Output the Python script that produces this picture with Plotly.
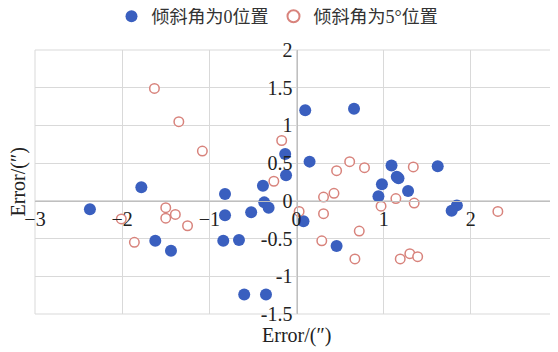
import plotly.graph_objects as go

# Series 1: 倾斜角为0位置 (filled blue)
s0_x = [-2.37, -1.78, -0.82, -0.385, -0.37, -0.32, -0.52, -0.13, -0.12, -0.82,
        -0.84, -0.66, -1.62, -1.44, -0.60, -0.35, 0.10, 0.66, 0.15, 1.09,
        1.62, 1.15, 1.17, 0.98, 1.28, 0.94, 1.84, 1.78, 0.08, 0.46]
s0_y = [-0.11, 0.18, 0.09, 0.20, -0.02, -0.09, -0.15, 0.62, 0.34, -0.19,
        -0.53, -0.52, -0.53, -0.66, -1.24, -1.24, 1.20, 1.22, 0.52, 0.47,
        0.46, 0.32, 0.30, 0.22, 0.13, 0.06, -0.06, -0.13, -0.27, -0.60]

# Series 2: 倾斜角为5°位置 (open red)
s5_x = [-1.63, -1.35, -1.08, -0.17, -0.26, -1.50, -1.39, -1.50, -1.25, -2.01,
        -1.86, 0.61, 0.46, 0.78, 1.34, 0.43, 0.31, 1.14, 1.35, 0.97,
        0.03, 0.31, 2.31, 0.72, 0.29, 0.67, 1.19, 1.30, 1.39]
s5_y = [1.49, 1.05, 0.66, 0.80, 0.26, -0.09, -0.18, -0.23, -0.33, -0.24,
        -0.55, 0.52, 0.40, 0.44, 0.45, 0.10, 0.05, 0.03, -0.03, -0.07,
        -0.14, -0.17, -0.14, -0.40, -0.53, -0.77, -0.77, -0.70, -0.74]

series_names = ["倾斜角为0位置", "倾斜角为5°位置"]

x_ticks = [-3, -2, -1, 0, 1, 2, 3]
x_ticktext = ["−3", "−2", "−1", "0", "1", "2", "3"]
y_ticks = [-1.5, -1, -0.5, 0, 0.5, 1, 1.5, 2]
y_ticktext = ["-1.5", "-1", "-0.5", "0", "0.5", "1", "1.5", "2"]

x_range = [-3, 3]
y_range = [-1.5, 2]

FAM = "Times New Roman, Liberation Serif, serif"
LEG_FAM = "Times New Roman, Liberation Serif, Noto Sans CJK SC, serif"
TXT = "#222222"

fig = go.Figure()
fig.add_trace(go.Scatter(
    x=s0_x, y=s0_y, mode="markers", name=series_names[0],
    marker=dict(size=12, color="#3a5fbf", line=dict(width=0)),
))
fig.add_trace(go.Scatter(
    x=s5_x, y=s5_y, mode="markers", name=series_names[1],
    marker=dict(size=9.5, color="white", symbol="circle",
                line=dict(width=1.5, color="#d8837c")),
))

y_zero_frac = (0 - y_range[0]) / (y_range[1] - y_range[0])
x_zero_frac = (0 - x_range[0]) / (x_range[1] - x_range[0])

fig.update_layout(
    template="none",
    width=550, height=344,
    margin=dict(l=27, r=0, t=42, b=38, autoexpand=False),
    paper_bgcolor="white", plot_bgcolor="white",
    font=dict(family=FAM, size=20, color=TXT),
    showlegend=True,
    legend=dict(orientation="h", x=0.49, xanchor="center", y=0.975, yanchor="middle",
                yref="container", xref="container",
                font=dict(family=LEG_FAM, size=18, color="#333333"),
                itemwidth=30, tracegroupgap=0, itemsizing="constant",
                bgcolor="rgba(0,0,0,0)", borderwidth=0),
    xaxis=dict(range=x_range, tickvals=x_ticks, ticktext=x_ticktext,
               showgrid=True, gridcolor="#d9d9d9", gridwidth=1,
               zeroline=False, showline=True, linecolor="#bfbfbf", linewidth=1,
               anchor="free", position=y_zero_frac, ticks="", automargin=False,
               tickfont=dict(family=FAM, size=20, color=TXT), fixedrange=True),
    yaxis=dict(range=y_range, tickvals=y_ticks, ticktext=y_ticktext,
               showgrid=True, gridcolor="#d9d9d9", gridwidth=1,
               zeroline=False, showline=True, linecolor="#bfbfbf", linewidth=1,
               anchor="free", position=x_zero_frac, ticks="", automargin=False,
               tickfont=dict(family=FAM, size=20, color=TXT), fixedrange=True),
    shapes=[dict(type="rect", xref="paper", yref="paper", x0=0, y0=0, x1=1, y1=1,
                 line=dict(color="#d9d9d9", width=1), layer="below")],
    annotations=[
        dict(text="Error/(″)", x=0.5, y=0, xref="paper", yref="paper",
             xanchor="center", yanchor="top", yshift=-8, showarrow=False,
             font=dict(family=FAM, size=20, color=TXT)),
        dict(text="Error/(″)", x=0, y=0.5, xref="paper", yref="paper",
             xanchor="right", yanchor="middle", xshift=-4, showarrow=False,
             textangle=-90, font=dict(family=FAM, size=20, color=TXT)),
    ],
)

fig.write_html("out.html")
